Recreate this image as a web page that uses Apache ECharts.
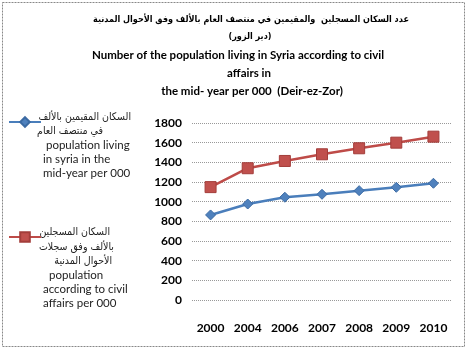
<!DOCTYPE html>
<html>
<head>
<meta charset="utf-8">
<script src="https://cdn.jsdelivr.net/npm/echarts@6/dist/echarts.min.js"></script>
<style>
  html, body { margin: 0; padding: 0; background: #fff; }
  #chart { width: 468px; height: 351px; }
</style>
</head>
<body>
<div id="chart"></div>
<script>
// data
const years = ['2000', '2004', '2006', '2007', '2008', '2009', '2010'];
const livingMidYear = [865, 976, 1045, 1075, 1112, 1146, 1187];
const civilAffairs = [1148, 1340, 1414, 1482, 1543, 1600, 1661];
const yTicks = { min: 0, max: 1800, interval: 200 };

const titleLines = [
  'عدد السكان المسجلين  والمقيمين في منتصف العام بالألف وفق الأحوال المدنية',
  '(دير الزور)',
  'Number of the population living in Syria according to civil',
  'affairs in',
  'the mid- year per 000  (Deir-ez-Zor)'
];
const legendBlue = ['السكان المقيمين بالألف', 'في منتصف العام', ' population living', 'in syria in the', 'mid-year per 000'];
const legendRed = ['السكان المسجلين', 'بالألف وفق سجلات', 'الأحوال المدنية', 'population', 'according to civil', 'affairs per 000'];

const latin = 'Lato, "Open Sans", sans-serif';
const arabic = '"DejaVu Sans Condensed", "DejaVu Sans", sans-serif';

const chart = echarts.init(document.getElementById('chart'));

// text for the title and the legend blocks
const texts = [];
const titleY = [20, 37, 55, 73, 91];
const titleX = [251, 250, 238, 249, 252];
titleLines.forEach(function (t, i) {
  const isArabic = i < 2;
  texts.push({
    type: 'text',
    style: {
      text: t,
      x: titleX[i],
      y: titleY[i],
      font: isArabic ? 'bold 9px ' + arabic : 'bold 11.5px ' + latin,
      fill: '#000',
      align: 'center',
      verticalAlign: 'middle'
    }
  });
});

function legendText(lines, ys, xs) {
  lines.forEach(function (t, i) {
    const isArabic = /[\u0600-\u06FF]/.test(t);
    texts.push({
      type: 'text',
      style: {
        text: t,
        x: xs[i],
        y: ys[i],
        font: isArabic ? '10.5px ' + arabic : '11.5px ' + latin,
        fill: '#222',
        align: isArabic ? 'right' : 'left',
        verticalAlign: 'middle'
      }
    });
  });
}
legendText(legendBlue, [117, 131, 145, 159, 173], [131, 103, 43, 43, 43]);
legendText(legendRed, [232, 247, 261, 275, 289, 303], [110, 114, 112, 49, 43, 43]);

chart.setOption({
  animation: false,
  textStyle: { fontFamily: latin },
  legend: [
    {
      data: ['livingMidYear'],
      left: 3, top: 111,
      itemWidth: 32, itemHeight: 12,
      formatter: function () { return ''; },
      selectedMode: false
    },
    {
      data: ['civilAffairs'],
      left: 3, top: 226,
      itemWidth: 32, itemHeight: 12,
      formatter: function () { return ''; },
      selectedMode: false
    }
  ],
  grid: { left: 192, right: 16, top: 123, bottom: 51, containLabel: false },
  xAxis: {
    type: 'category',
    data: years,
    boundaryGap: true,
    axisLine: { show: false },
    axisTick: { show: false },
    axisLabel: { fontWeight: 'bold', fontSize: 12, color: '#000', margin: 22 }
  },
  yAxis: {
    type: 'value',
    min: yTicks.min,
    max: yTicks.max,
    interval: yTicks.interval,
    axisLine: { show: false },
    axisTick: { show: false },
    axisLabel: {
      fontWeight: 'bold', fontSize: 12, color: '#000', margin: 10,
      formatter: function (v) { return String(v); }
    },
    splitLine: { lineStyle: { color: '#999', type: [1, 1], width: 1 } }
  },
  series: [
    {
      name: 'livingMidYear',
      type: 'line',
      data: livingMidYear,
      symbol: 'diamond',
      symbolSize: 10,
      lineStyle: { color: '#4a7ebb', width: 2.5 },
      itemStyle: { color: '#4f81bd', borderColor: '#3b6aa3', borderWidth: 1 }
    },
    {
      name: 'civilAffairs',
      type: 'line',
      data: civilAffairs,
      symbol: 'rect',
      symbolSize: 11,
      lineStyle: { color: '#be4b48', width: 2.5 },
      itemStyle: { color: '#c0504d', borderColor: '#a33d3a', borderWidth: 1 }
    }
  ],
  graphic: [
    {
      type: 'rect',
      shape: { x: 2.5, y: 2.5, width: 462, height: 344 },
      style: { fill: 'none', stroke: '#888', lineWidth: 1, lineDash: [2, 1] }
    }
  ].concat(texts)
});
</script>
</body>
</html>
